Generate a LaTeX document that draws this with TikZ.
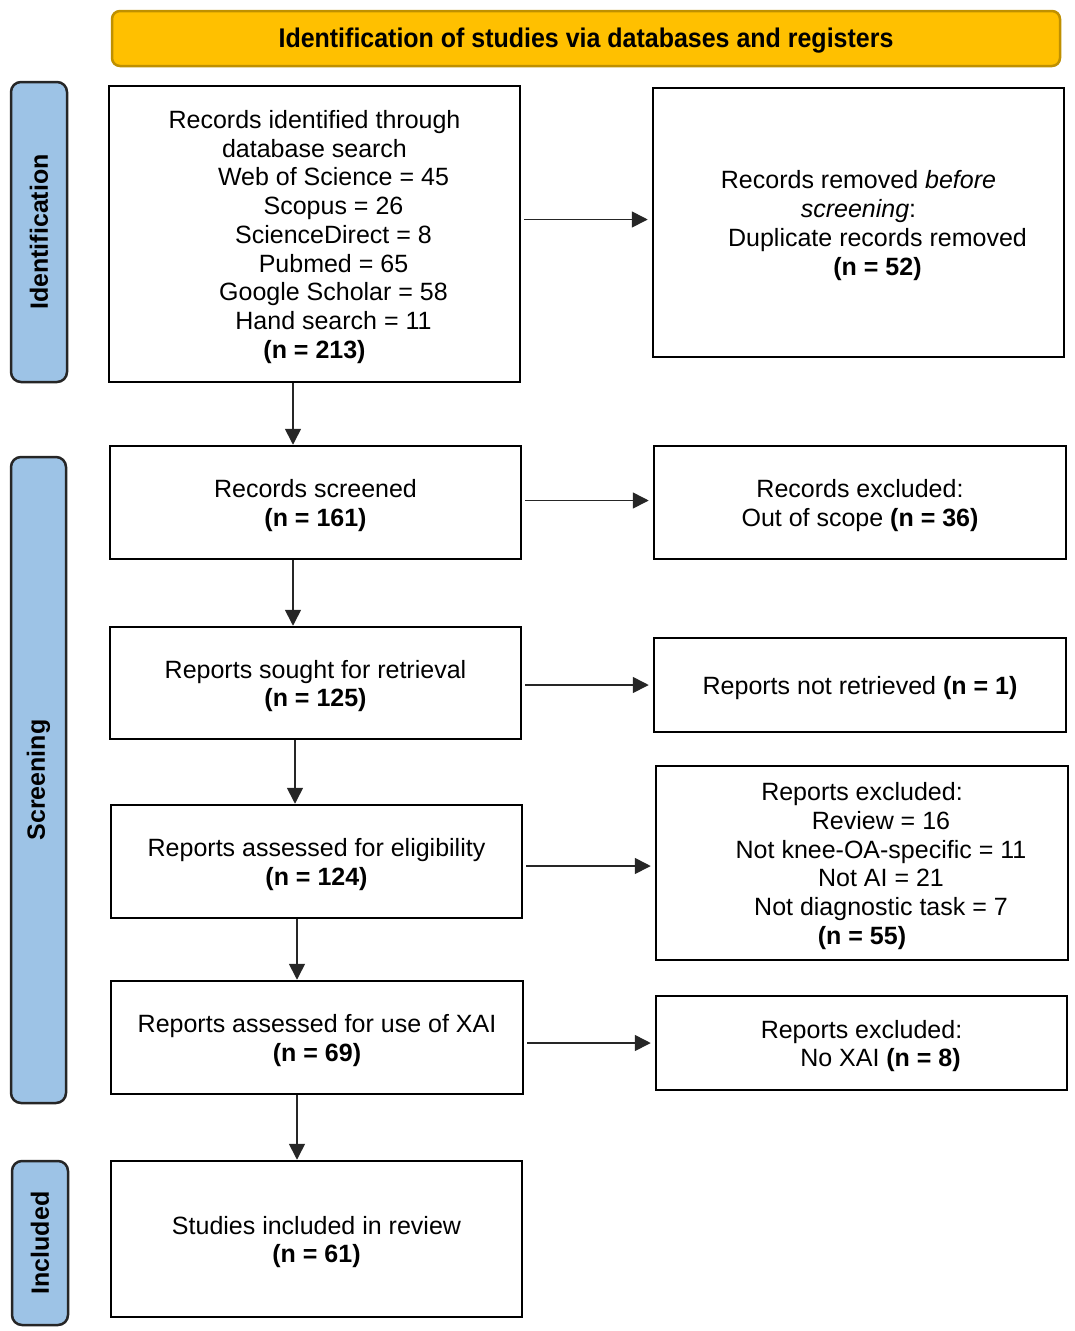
\documentclass[tikz,border=0pt]{standalone}
\usepackage{fontspec}
\setmainfont{Liberation Sans}
\newfontfamily\headfont[FakeStretch=0.925]{Liberation Sans}
\usetikzlibrary{arrows.meta}
\definecolor{headfill}{HTML}{FFC000}
\definecolor{headline}{HTML}{BF9000}
\definecolor{sidefill}{HTML}{9DC3E6}
\definecolor{sideline}{HTML}{262626}
\newcommand\lsp{\hspace*{38pt}}
\begin{document}
\begin{tikzpicture}[x=1pt,y=-1pt,
  box/.style={draw=black,line width=2.5pt,fill=white,inner sep=0pt},
  txt/.style={align=center,inner sep=0pt,font=\fontsize{25}{28.75}\selectfont},
  side/.style={draw=sideline,line width=2.5pt,fill=sidefill,rounded corners=10pt,
    inner sep=0pt,rotate=90,font=\fontsize{25}{28}\selectfont\bfseries},
  arr/.style={draw=black!85,line width=1.6pt,-{Triangle[length=16pt,width=16pt]}}]
\useasboundingbox (0,0) rectangle (1074,1331);

% header
\node[draw=headline,line width=2.5pt,fill=headfill,rounded corners=8pt,
  minimum width=948pt,minimum height=55pt,inner sep=0pt] (head) at (586,38.5) {};
\node[inner sep=0pt,font=\headfont\fontsize{27}{30}\selectfont\bfseries] (headt)
  at ([yshift=-2pt]head.center) {Identification of studies via databases and registers};

% side labels
\node[side,minimum width=300pt,minimum height=56pt] (sid) at (39,232) {Identification};
\node[side,minimum width=646pt,minimum height=55pt] (sscr) at (38.5,780) {Screening};
\node[side,minimum width=164pt,minimum height=56pt] (sinc) at (40,1243) {Included};

% left column
\node[box,minimum width=411pt,minimum height=296pt] (b1) at (314.5,234) {};
\node[txt] (b1t) at ([yshift=-3pt]b1.center)
  {Records identified through\\ database search\\
   \lsp Web of Science = 45\\ \lsp Scopus = 26\\ \lsp ScienceDirect = 8\\
   \lsp Pubmed = 65\\ \lsp Google Scholar = 58\\ \lsp Hand search = 11\\
   \textbf{(n = 213)}};
\node[box,minimum width=411pt,minimum height=113pt] (b2) at (315.5,502.5) {};
\node[txt] (b2t) at ([yshift=-3pt]b2.center) {Records screened\\ \textbf{(n = 161)}};
\node[box,minimum width=411pt,minimum height=112pt] (b3) at (315.5,683) {};
\node[txt] (b3t) at ([yshift=-3pt]b3.center) {Reports sought for retrieval\\ \textbf{(n = 125)}};
\node[box,minimum width=411pt,minimum height=113pt] (b4) at (316.5,861.5) {};
\node[txt] (b4t) at ([yshift=-3pt]b4.center) {Reports assessed for eligibility\\ \textbf{(n = 124)}};
\node[box,minimum width=412pt,minimum height=113pt] (b5) at (317,1037.5) {};
\node[txt] (b5t) at ([yshift=-3pt]b5.center) {Reports assessed for use of XAI\\ \textbf{(n = 69)}};
\node[box,minimum width=411pt,minimum height=156pt] (b6) at (316.5,1239) {};
\node[txt] (b6t) at ([yshift=-3pt]b6.center) {Studies included in review\\ \textbf{(n = 61)}};

% right column
\node[box,minimum width=411pt,minimum height=269pt] (r1) at (858.5,222.5) {};
\node[txt] (r1t) at ([yshift=-3pt]r1.center)
  {Records removed \textit{before}\\ \textit{screening}:\\
   \lsp Duplicate records removed\\ \lsp\textbf{(n = 52)}};
\node[box,minimum width=412pt,minimum height=113pt] (r2) at (860,502.5) {};
\node[txt] (r2t) at ([yshift=-3pt]r2.center) {Records excluded:\\ Out of scope \textbf{(n = 36)}};
\node[box,minimum width=412pt,minimum height=94pt] (r3) at (860,685) {};
\node[txt] (r3t) at ([yshift=-3pt]r3.center) {Reports not retrieved \textbf{(n = 1)}};
\node[box,minimum width=412pt,minimum height=194pt] (r4) at (862,863) {};
\node[txt] (r4t) at ([yshift=-3pt]r4.center)
  {Reports excluded:\\ \lsp Review = 16\\ \lsp Not knee-OA-specific = 11\\
   \lsp Not AI = 21\\ \lsp Not diagnostic task = 7\\ \textbf{(n = 55)}};
\node[box,minimum width=411pt,minimum height=94pt] (r5) at (861.5,1043) {};
\node[txt] (r5t) at ([yshift=-3pt]r5.center) {Reports excluded:\\ \lsp No XAI \textbf{(n = 8)}};

% horizontal arrows
\draw[arr] ([xshift=3pt,yshift=3pt]b1.east |- r1.west) -- ([xshift=-4pt,yshift=3pt]r1.west);
\draw[arr] ([xshift=3pt,yshift=2pt]b2.east |- r2.west) -- ([xshift=-4pt,yshift=2pt]r2.west);
\draw[arr] ([xshift=3pt]b3.east |- r3.west) -- ([xshift=-4pt]r3.west);
\draw[arr] ([xshift=3pt,yshift=-3pt]b4.east |- r4.west) -- ([xshift=-4pt,yshift=-3pt]r4.west);
\draw[arr] ([xshift=3pt]b5.east |- r5.west) -- ([xshift=-4pt]r5.west);

% vertical arrows
\draw[arr] ([xshift=-21.5pt]b1.south) -- ([xshift=-21.5pt]b1.south |- b2.north);
\draw[arr] ([xshift=-22.5pt]b2.south) -- ([xshift=-22.5pt]b2.south |- b3.north);
\draw[arr] ([xshift=-20.5pt]b3.south) -- ([xshift=-20.5pt]b3.south |- b4.north);
\draw[arr] ([xshift=-19.5pt]b4.south) -- ([xshift=-19.5pt]b4.south |- b5.north);
\draw[arr] ([xshift=-20pt]b5.south) -- ([xshift=-20pt]b5.south |- b6.north);
\end{tikzpicture}
\end{document}
